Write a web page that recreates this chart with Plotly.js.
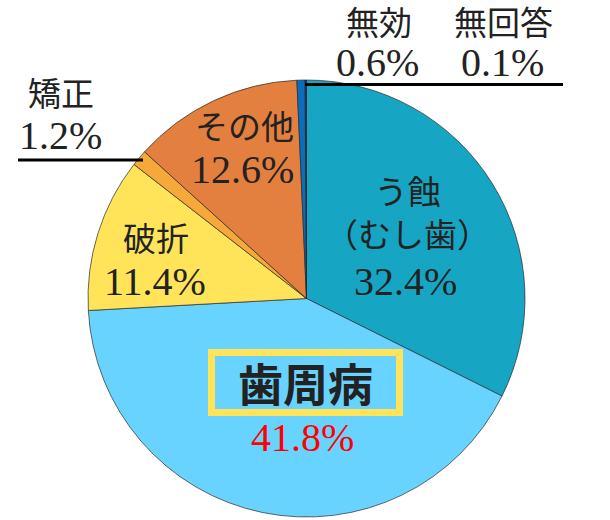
<!DOCTYPE html>
<html>
<head>
<meta charset="utf-8">
<script src="https://cdn.plot.ly/plotly-3.0.1.min.js"></script>
<style>
  html, body { margin: 0; padding: 0; background: #ffffff; }
  #chart { width: 610px; height: 520px; }
</style>
</head>
<body>
<div id="chart"></div>
<script>
// Reasons for tooth extraction (share of cases, %)
const categories = ['う蝕', '歯周病', '破折', '矯正', 'その他', '無効', '無回答'];
const shares = [32.4, 41.8, 11.4, 1.2, 12.6, 0.6, 0.1];
const sliceColors = ['#16a5c2', '#68d3fe', '#ffe45a', '#f6a838', '#e4803f', '#0a6ebe', '#1b1b66'];

const W = 610, H = 520;
const px = x => x / W;          // pixel x -> paper x
const py = y => 1 - y / H;      // pixel y -> paper y

const SERIF = 'Liberation Serif';
const CJK = 'Noto Sans CJK JP';
const INK = '#222222';

// pie occupies a 437px square: centre (306.5, 298.5)
const pie = {
  type: 'pie',
  labels: categories,
  values: shares,
  sort: false,
  direction: 'clockwise',
  rotation: 0,
  textinfo: 'none',
  hoverinfo: 'label+percent',
  marker: { colors: sliceColors, line: { color: '#2a2a2a', width: 0.7 } },
  domain: { x: [px(88), px(525)], y: [py(517), py(80)] },
  showlegend: false
};

const pct = v => v.toFixed(1) + '%';
const idx = name => categories.indexOf(name);

function makeLabel(text, x, y, family, size, color, weight) {
  const font = { family: family, size: size, color: color || INK };
  if (weight) font.weight = weight;
  return {
    xref: 'paper', yref: 'paper', x: px(x), y: py(y),
    xanchor: 'center', yanchor: 'middle', showarrow: false,
    text: text, font: font
  };
}
const nameLabel = (text, x, y) => makeLabel(text, x, y, CJK, 33);
const valueLabel = (name, x, y, color) => makeLabel(pct(shares[idx(name)]), x, y, SERIF, 40, color);

const annotations = [
  nameLabel(categories[0] + '<br>（むし歯）', 407, 211),
  valueLabel('う蝕', 405, 281),

  makeLabel(categories[1], 305, 382, CJK, 45, INK, 'bold'),
  valueLabel('歯周病', 302, 437, '#ff0000'),

  nameLabel(categories[2], 156, 237),
  valueLabel('破折', 155, 281),

  nameLabel(categories[3], 61, 92),
  valueLabel('矯正', 60, 136),

  nameLabel(categories[4], 244, 125),
  valueLabel('その他', 242, 170),

  nameLabel(categories[5], 379, 21),
  valueLabel('無効', 377, 62),

  nameLabel(categories[6], 503, 21),
  valueLabel('無回答', 502, 62)
];

const shapes = [
  // frame around the 歯周病 label
  { type: 'rect', xref: 'paper', yref: 'paper',
    x0: px(211.5), x1: px(399.5), y0: py(412.5), y1: py(352.5),
    line: { color: '#ffe45a', width: 7 }, fillcolor: 'rgba(0,0,0,0)' },
  // leader line for 無効 / 無回答
  { type: 'line', xref: 'paper', yref: 'paper',
    x0: px(305), x1: px(563), y0: py(84.5), y1: py(84.5),
    line: { color: '#000000', width: 3 } },
  // leader line for 矯正
  { type: 'line', xref: 'paper', yref: 'paper',
    x0: px(18), x1: px(143), y0: py(160), y1: py(160),
    line: { color: '#000000', width: 3 } }
];

const layout = {
  width: W, height: H,
  margin: { l: 0, r: 0, t: 0, b: 0 },
  paper_bgcolor: '#ffffff',
  showlegend: false,
  annotations: annotations,
  shapes: shapes
};

Plotly.newPlot('chart', [pie], layout, { displayModeBar: false, staticPlot: true });
</script>
</body>
</html>
